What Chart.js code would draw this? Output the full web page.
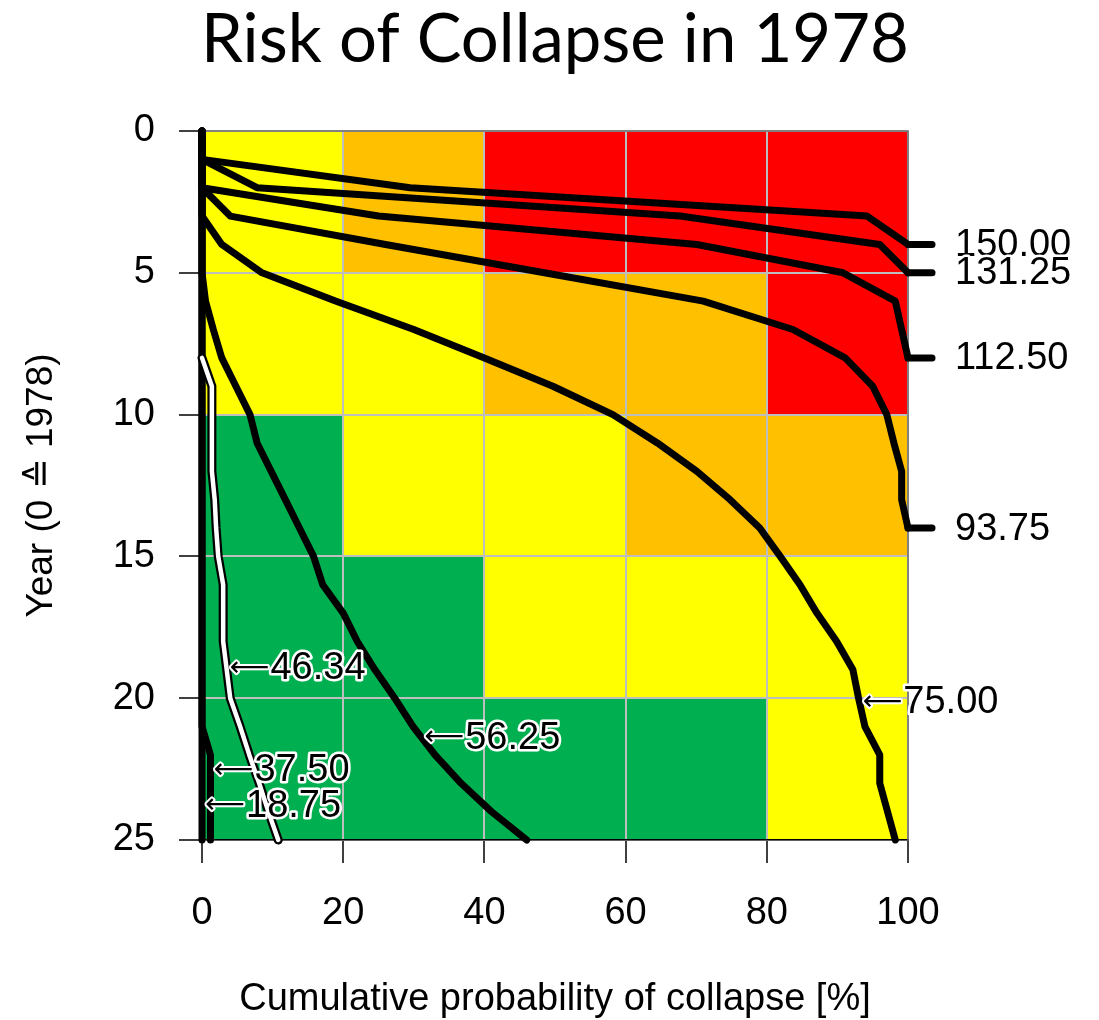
<!DOCTYPE html>
<html>
<head>
<meta charset="utf-8">
<script src="https://cdn.jsdelivr.net/npm/chart.js@4/dist/chart.umd.min.js"></script>
<style>
  html, body { margin: 0; padding: 0; background: #ffffff; }
  #wrap { width: 1099px; height: 1020px; }
</style>
</head>
<body>
<div id="wrap"><canvas id="chart" width="1099" height="1020"></canvas></div>
<script>
// Risk bands: probability columns and year rows
const probBands = [0, 20, 40, 60, 80, 100];
const yearBands = [0, 5, 10, 15, 20, 25];
// risk class of each cell (0 = low ... 3 = high), one row per year band
const riskYears0to5   = [1, 2, 3, 3, 3];
const riskYears5to10  = [1, 1, 2, 2, 3];
const riskYears10to15 = [0, 1, 1, 2, 2];
const riskYears15to20 = [0, 0, 1, 1, 1];
const riskYears20to25 = [0, 0, 0, 0, 1];

// Contour levels
const levels = ['150.00', '131.25', '112.50', '93.75', '75.00', '56.25', '46.34', '37.50', '18.75'];

// Cumulative probability of collapse [%] at year 0, 1, 2, ... (null = contour not yet present)
const prob150 = [0, 0, 29.5, 94.2, 100];
const prob131 = [0, 0, 7.8, 67.7, 96.0, 100];
const prob112 = [0, 0, 0, 25.0, 70.1, 90.8, 98.2, 99.1, 100];
const prob94  = [0, 0, 0, 4.0, 26.0, 48.5, 71.0, 83.7, 91.1, 95.0, 97.0, 98.0, 99.1, 99.1, 100];
const prob75  = [0, 0, 0, 0, 2.8, 8.5, 19.0, 30.0, 40.0, 49.7, 58.2, 64.5, 70.1, 74.8, 79.0, 81.9, 84.7, 87.1, 89.9, 92.2, 93.0, 93.9, 96.0, 96.0, 97.1, 98.2];
const prob56  = [0, 0, 0, 0, 0, 0, 0.5, 1.6, 2.8, 4.8, 6.8, 7.8, 9.8, 11.8, 13.8, 15.8, 17.1, 20.0, 22.0, 24.5, 27.3, 29.9, 33.0, 36.7, 41.0, 46.0];
const prob46  = [null, null, null, null, null, null, null, null, 0, 1.4, 1.4, 1.4, 1.4, 1.8, 2.0, 2.3, 3.0, 3.0, 3.0, 3.5, 4.0, 5.4, 6.7, 8.1, 9.4, 10.8];
const prob37  = [0, 0, 0, 0, 0, 0, 0, 0, 0, 0, 0, 0, 0, 0, 0, 0, 0, 0, 0, 0, 0, 0, 1.2, 1.2, 1.2, 1.2];
const prob19  = [0, 0, 0, 0, 0, 0, 0, 0, 0, 0, 0, 0, 0, 0, 0, 0, 0, 0, 0, 0, 0, 0, 0, 0, 0, 0];

// ---- presentation ----
const chartTitle = 'Risk of Collapse in 1978';
const riskColors = ['#00B050', '#FFFF00', '#FFC000', '#FF0000'];
const riskRows = [riskYears0to5, riskYears5to10, riskYears10to15, riskYears15to20, riskYears20to25];
const curves = [prob150, prob131, prob112, prob94, prob75, prob56, prob46, prob37, prob19];
const highlighted = 6;               // the 46.34 contour is drawn white
const edgeLabelled = [0, 1, 2, 3];   // labelled at the right edge of the plot
const inlineLabelYear = { 4: 20.12, 5: 21.37, 6: 18.93, 7: 22.53, 8: 23.77 };

const SANS = "'Liberation Sans', Arial, sans-serif";
const ARROW_FONT = "'DejaVu Sans', sans-serif";
const LABEL_SIZE = 38;
const ARROW_LEN = 38;

function toPoints(probs) {
  const pts = [];
  probs.forEach((p, yr) => { if (p !== null) pts.push({ x: p, y: yr }); });
  return pts;
}
function probAt(probs, year) {
  const i = Math.floor(year), f = year - i;
  const a = probs[i], b = probs[Math.min(i + 1, probs.length - 1)];
  return a + (b - a) * f;
}

const datasets = [];
curves.forEach((probs, i) => {
  const base = {
    data: toPoints(probs),
    showLine: true,
    pointRadius: 0,
    borderCapStyle: 'round',
    borderJoinStyle: 'round',
    tension: 0,
    clip: false,
    fill: false
  };
  if (i === highlighted) {
    datasets.push(Object.assign({}, base, { label: levels[i], borderColor: '#000000', borderWidth: 9, order: 1 }));
    datasets.push(Object.assign({}, base, { data: toPoints(probs), label: levels[i] + ' core', borderColor: '#FFFFFF', borderWidth: 4.5, order: 0 }));
  } else {
    datasets.push(Object.assign({}, base, { label: levels[i], borderColor: '#000000', borderWidth: 7, order: 2 }));
  }
});

// colored risk cells behind the grid, frame on top of the grid
const riskCells = {
  id: 'riskCells',
  beforeDraw(chart) {
    const { ctx, scales: { x, y } } = chart;
    ctx.save();
    riskRows.forEach((row, r) => {
      row.forEach((cls, c) => {
        const x0 = x.getPixelForValue(probBands[c]);
        const x1 = x.getPixelForValue(probBands[c + 1]);
        const y0 = y.getPixelForValue(yearBands[r]);
        const y1 = y.getPixelForValue(yearBands[r + 1]);
        ctx.fillStyle = riskColors[cls];
        ctx.fillRect(x0, y0, x1 - x0, y1 - y0);
      });
    });
    ctx.restore();
  },
  beforeDatasetsDraw(chart) {
    const { ctx, chartArea: a } = chart;
    ctx.save();
    ctx.strokeStyle = '#6E6E6E';
    ctx.lineWidth = 1.5;
    ctx.beginPath();
    ctx.moveTo(a.left, a.top);
    ctx.lineTo(a.right, a.top);
    ctx.lineTo(a.right, a.bottom);
    ctx.stroke();
    ctx.restore();
  }
};

// heading centred over the plot
const heading = {
  id: 'heading',
  afterDraw(chart) {
    const { ctx, chartArea: a } = chart;
    ctx.save();
    ctx.font = '67px Lato, sans-serif';
    ctx.fillStyle = '#000000';
    ctx.textAlign = 'center';
    ctx.textBaseline = 'alphabetic';
    ctx.fillText(chartTitle, (a.left + a.right) / 2, 62);
    ctx.restore();
  }
};

function haloText(ctx, text, x, y, halo) {
  ctx.lineJoin = 'round';
  ctx.strokeStyle = '#FFFFFF';
  ctx.lineWidth = halo;
  ctx.strokeText(text, x, y);
  ctx.fillStyle = '#000000';
  ctx.fillText(text, x, y);
}

// contour labels
const contourLabels = {
  id: 'contourLabels',
  afterDatasetsDraw(chart) {
    const { ctx, scales: { x, y } } = chart;
    ctx.save();
    ctx.textBaseline = 'middle';
    ctx.textAlign = 'left';
    edgeLabelled.forEach(i => {
      const probs = curves[i];
      const yr = probs.length - 1;
      const px = x.getPixelForValue(probs[yr]);
      const py = y.getPixelForValue(yr);
      ctx.strokeStyle = '#000000';
      ctx.lineWidth = 7;
      ctx.lineCap = 'round';
      ctx.beginPath();
      ctx.moveTo(px, py);
      ctx.lineTo(px + 24, py);
      ctx.stroke();
      ctx.font = LABEL_SIZE + 'px ' + SANS;
      haloText(ctx, levels[i], px + 47, py + 1, 5);
    });
    // long arrow glyph scaled so its ink spans ARROW_LEN pixels
    ctx.font = '40px ' + ARROW_FONT;
    const m = ctx.measureText('\u27F5');
    const ink = (m.actualBoundingBoxRight + m.actualBoundingBoxLeft) || m.width || 1;
    const arrowSize = 40 * ARROW_LEN / ink;
    const arrowLeft = (m.actualBoundingBoxLeft || 0) * arrowSize / 40;
    Object.keys(inlineLabelYear).forEach(k => {
      const i = +k;
      const yr = inlineLabelYear[k];
      const px = x.getPixelForValue(probAt(curves[i], yr)) + 4;
      const py = y.getPixelForValue(yr);
      ctx.font = arrowSize + 'px ' + ARROW_FONT;
      haloText(ctx, '\u27F5', px + arrowLeft, py + 1, 4);
      ctx.font = LABEL_SIZE + 'px ' + SANS;
      haloText(ctx, levels[i], px + ARROW_LEN + 2, py + 1, 5);
    });
    ctx.restore();
  }
};

new Chart(document.getElementById('chart'), {
  type: 'scatter',
  data: { datasets },
  options: {
    responsive: false,
    animation: false,
    devicePixelRatio: 1,
    layout: { padding: { left: 0, right: 191, top: 131, bottom: 0 } },
    plugins: {
      legend: { display: false },
      tooltip: { enabled: false },
      title: { display: false }
    },
    scales: {
      x: {
        type: 'linear',
        position: 'bottom',
        min: 0, max: 100,
        afterFit(scale) { scale.height = 180; },
        ticks: { stepSize: 20, color: '#000000', padding: 28, font: { family: SANS, size: 38 } },
        grid: { color: '#BEBEBE', lineWidth: 2, tickColor: '#000000', tickLength: 23, tickWidth: 1.5 },
        border: { display: true, color: '#000000', width: 1.5 },
        title: {
          display: true,
          text: 'Cumulative probability of collapse [%]',
          color: '#000000',
          font: { family: SANS, size: 38, lineHeight: 1.1 },
          padding: { top: 0, bottom: 0 }
        }
      },
      y: {
        type: 'linear',
        reverse: true,
        min: 0, max: 25,
        afterFit(scale) { scale.width = 202; },
        ticks: { stepSize: 5, color: '#000000', padding: 24, font: { family: SANS, size: 38 } },
        grid: { color: '#BEBEBE', lineWidth: 2, tickColor: '#000000', tickLength: 23, tickWidth: 1.5 },
        border: { display: true, color: '#000000', width: 1.5 },
        title: {
          display: true,
          text: 'Year (0 \u2259 1978)',
          color: '#000000',
          font: { family: SANS, size: 37, lineHeight: 1.1 },
          padding: { top: 21.6, bottom: 0 }
        }
      }
    }
  },
  plugins: [riskCells, contourLabels, heading]
});
</script>
</body>
</html>
